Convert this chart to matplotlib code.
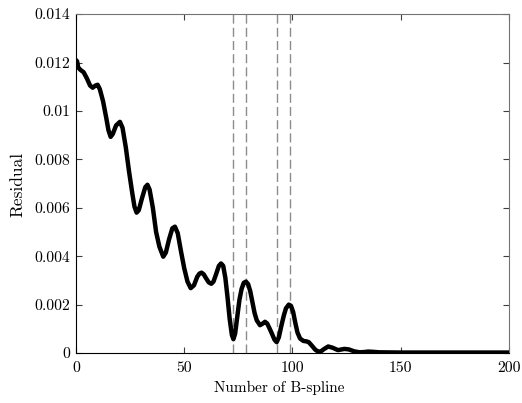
import matplotlib
matplotlib.use("Agg")
import matplotlib.pyplot as plt

plt.rcParams['font.family'] = ['cmr10', 'DejaVu Serif']
plt.rcParams['axes.formatter.use_mathtext'] = True

# residual curve (y in units of 1e-3)
n_bspline = [0, 0.5, 1, 2, 3.5, 5, 6.5, 7.7, 9, 10, 11, 12.5, 14, 15, 16, 17, 18.5,
             20.3, 21.5, 23, 24.5, 26, 27, 28, 29, 30.5, 32, 33, 34, 35.5, 37, 38.5,
             40.3, 41.5, 43, 44.5, 45.7, 47, 48.5, 50, 51.5, 53, 54.5, 56, 57, 58, 59,
             60, 61.3, 62.5, 63.5, 64.5, 66, 67, 68, 69, 70, 71, 72, 72.7, 73.5,
             74.5, 75.5, 76.5, 77.5, 78.5, 79.5, 80.5, 81.5, 82.5, 83.5, 85, 86.3,
             87.3, 88.3, 89.5, 90.5, 91.7, 92.7, 93.7, 94.8, 96, 97, 98.3, 99.3,
             100.3, 101.3, 102.3, 103.5, 105, 106.5, 107.5, 109, 110.5, 112, 113,
             114.5, 116.5, 118.5, 121, 124, 126, 128.5, 131, 133, 135, 137, 140, 145,
             150, 160, 170, 180, 190, 200]
residual_e3 = [12.1, 12.05, 11.8, 11.7, 11.6, 11.35, 11.05, 10.96, 11.05, 11.08, 10.9,
               10.4, 9.7, 9.2, 8.93, 9.05, 9.4, 9.55, 9.3, 8.5, 7.5, 6.6, 6.05, 5.8,
               5.9, 6.4, 6.85, 6.95, 6.75, 6.0, 5.0, 4.4, 3.98, 4.15, 4.7, 5.15, 5.22,
               4.95, 4.2, 3.5, 2.95, 2.68, 2.8, 3.15, 3.28, 3.32, 3.25, 3.1, 2.92,
               2.86, 2.95, 3.2, 3.6, 3.7, 3.6, 3.1, 2.3, 1.4, 0.75, 0.57, 0.8, 1.5,
               2.2, 2.65, 2.9, 2.95, 2.85, 2.55, 2.1, 1.65, 1.35, 1.15, 1.22, 1.29,
               1.22, 1.0, 0.8, 0.55, 0.45, 0.65, 1.1, 1.55, 1.85, 2.0, 1.95, 1.7,
               1.25, 0.85, 0.6, 0.5, 0.48, 0.45, 0.3, 0.14, 0.05, 0.06, 0.16, 0.27,
               0.22, 0.12, 0.17, 0.15, 0.07, 0.03, 0.04, 0.06, 0.05, 0.03, 0.025,
               0.02, 0.02, 0.02, 0.02, 0.02, 0.02]
residual = [v * 1e-3 for v in residual_e3]

marked = [72.7, 78.5, 92.7, 98.7]

xticks = [0, 50, 100, 150, 200]
yticks = [0, 0.002, 0.004, 0.006, 0.008, 0.01, 0.012, 0.014]
ytick_labels = ['0', '0.002', '0.004', '0.006', '0.008', '0.01', '0.012', '0.014']

fig = plt.figure(figsize=(5.22, 4.03), dpi=100)
ax = fig.add_axes([0.1456, 0.124, 0.8294, 0.841])

for xm in marked:
    ax.axvline(xm, color='0.55', lw=1.0, dashes=(6.5, 3), zorder=1)

ax.plot(n_bspline, residual, color='black', lw=3.2, solid_joinstyle='round',
        solid_capstyle='round', zorder=3)

ax.set_xlim(0, 200)
ax.set_ylim(0, 0.014)
ax.set_xticks(xticks)
ax.set_xticklabels([str(t) for t in xticks])
ax.set_yticks(yticks)
ax.set_yticklabels(ytick_labels)
ax.tick_params(direction='in', top=True, right=True, length=4, width=0.8,
               labelsize=11.3, colors='0.25', labelcolor='black')
ax.tick_params(axis='x', pad=6)
ax.tick_params(axis='y', pad=4)

for side in ['top', 'right']:
    ax.spines[side].set_color('0.45')
for side in ['left', 'bottom']:
    ax.spines[side].set_color('black')

ax.set_xlabel('Number of B-spline', fontsize=11)
ax.set_ylabel('Residual', fontsize=12.5)
ax.xaxis.set_label_coords(0.47, -0.083)
ax.yaxis.set_label_coords(-0.116, 0.497)

fig.savefig('out.png', dpi=100)
